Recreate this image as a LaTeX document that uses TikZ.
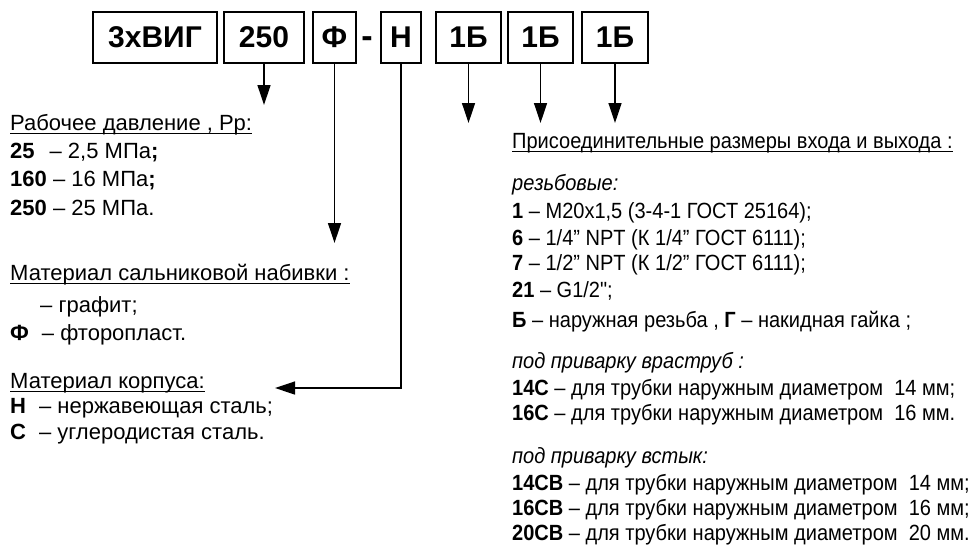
\documentclass[tikz,border=0pt]{standalone}
\usepackage{fontspec}
\setmainfont{Liberation Sans}
\newfontfamily\rfont[FakeStretch=0.91]{Liberation Sans}
\usetikzlibrary{arrows.meta}
\begin{document}
\begin{tikzpicture}[x=1pt,y=-1pt,
  codebox/.style={draw, line width=1.3pt, minimum height=51pt, inner sep=0pt,
    font=\bfseries\fontsize{30}{30}\selectfont},
  ltxt/.style={anchor=base west, inner sep=0pt, font=\fontsize{22}{24}\selectfont},
  rtxt/.style={anchor=base west, inner sep=0pt, font=\rfont\fontsize{22}{24}\selectfont},
  uline/.style={line width=0.9pt},
  arr/.style={line width=1.3pt, -{Triangle[length=20pt,width=13pt]}}]
\useasboundingbox (0,0) rectangle (973,557);
% code boxes
\node[codebox, minimum width=124pt] (b1) at (155,37.5) {3хВИГ};
\node[codebox, minimum width=80pt] (b2) at (264,37.5) {250};
\node[codebox, minimum width=43pt] (b3) at (334.5,37.5) {Ф};
\node[anchor=base, inner sep=0pt, font=\bfseries\fontsize{34}{34}\selectfont] (dash) at (367,47) {-};
\node[codebox, minimum width=40pt] (b4) at (401,37.5) {Н};
\node[codebox, minimum width=65pt] (b5) at (468.5,37.5) {1Б};
\node[codebox, minimum width=65pt] (b6) at (540.5,37.5) {1Б};
\node[codebox, minimum width=66pt] (b7) at (615,37.5) {1Б};
% arrow ends
\coordinate (e2) at (264,105);
\coordinate (e3) at (334.5,243);
\coordinate (c4) at (401,388);
\coordinate (e4) at (275,388);
\coordinate (e5) at (468.5,123);
\coordinate (e6) at (540.5,123);
\coordinate (e7) at (615,123);
\draw[arr] (b2.south) -- (e2);
\draw[arr] (b3.south) -- (e3);
\draw[arr] (b4.south) -- (c4) -- (e4);
\draw[arr] (b5.south) -- (e5);
\draw[arr] (b6.south) -- (e6);
\draw[arr] (b7.south) -- (e7);
% left texts
\node[ltxt] (l1) at (10,130) {Рабочее давление , Рр:};
\node[ltxt] (l2) at (10,158) {\textbf{25}\hspace{15pt}– 2,5 МПа\textbf{;}};
\node[ltxt] (l3) at (10,186) {\textbf{160} – 16 МПа\textbf{;}};
\node[ltxt] (l4) at (10,215) {\textbf{250} – 25 МПа.};
\node[ltxt] (l5) at (10,280) {Материал сальниковой набивки :};
\node[ltxt] (l6) at (40,312) {– графит;};
\node[ltxt] (l7) at (10,340) {\textbf{Ф}\hspace{13pt}– фторопласт.};
\node[ltxt] (l8) at (10,388) {Материал корпуса:};
\node[ltxt] (l9) at (10,413) {\textbf{Н}\hspace{13pt}– нержавеющая сталь;};
\node[ltxt] (l10) at (10,439) {\textbf{С}\hspace{13pt}– углеродистая сталь.};
% right texts
\node[rtxt] (r1) at (512,148) {Присоединительные размеры входа и выхода :};
\node[rtxt] (r2) at (512,190) {\textit{резьбовые:}};
\node[rtxt] (r3) at (512,218) {\textbf{1} – М20х1,5 (3-4-1 ГОСТ 25164);};
\node[rtxt] (r4) at (512,245) {\textbf{6} – 1/4” NPT (К 1/4” ГОСТ 6111);};
\node[rtxt] (r5) at (512,270) {\textbf{7} – 1/2” NPT (К 1/2” ГОСТ 6111);};
\node[rtxt] (r6) at (512,297) {\textbf{21} – G1/2";};
\node[rtxt] (r7) at (512,327) {\textbf{Б} – наружная резьба , \textbf{Г} – накидная гайка ;};
\node[rtxt] (r8) at (512,368) {\textit{под приварку враструб :}};
\node[rtxt] (r9) at (512,395) {\textbf{14С} – для трубки наружным диаметром\ \ 14 мм;};
\node[rtxt] (r10) at (512,420) {\textbf{16С} – для трубки наружным диаметром\ \ 16 мм.};
\node[rtxt] (r11) at (512,463) {\textit{под приварку встык:}};
\node[rtxt] (r12) at (512,490) {\textbf{14СВ} – для трубки наружным диаметром\ \ 14 мм;};
\node[rtxt] (r13) at (512,515) {\textbf{16СВ} – для трубки наружным диаметром\ \ 16 мм;};
\node[rtxt] (r14) at (512,540) {\textbf{20СВ} – для трубки наружным диаметром\ \ 20 мм.};
% underlines
\foreach \n in {l1,l5,l8,r1}
  \draw[uline] ([yshift=-3pt]\n.base west) -- ([yshift=-3pt]\n.base east);
\end{tikzpicture}
\end{document}
